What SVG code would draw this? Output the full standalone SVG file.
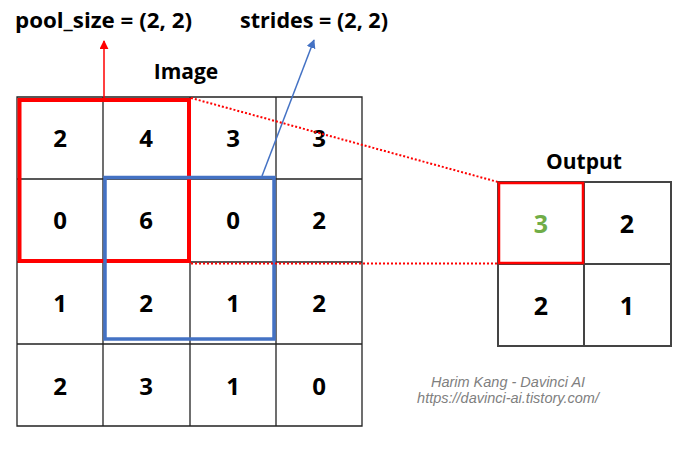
<svg xmlns="http://www.w3.org/2000/svg" width="699" height="450" viewBox="0 0 699 450">
<style>
.t{font-family:"Open Sans","Noto Sans","Liberation Sans",sans-serif;font-weight:bold;fill:#000;}
.lbl{font-size:21px;}
.num{font-size:24px;text-anchor:middle;}
.onum{font-size:25px;text-anchor:middle;}
.grid{fill:none;stroke:#222;stroke-width:1.3;}
.ogrid{fill:none;stroke:#444;stroke-width:2;}
.credit{font-family:"Liberation Sans",Arial,sans-serif;font-style:italic;font-size:14.5px;fill:#7f7f7f;text-anchor:middle;}
.dot{stroke:#FF0000;stroke-width:2;stroke-dasharray:2,2;fill:none;}
</style>
<defs>
<marker id="ar" viewBox="0 0 10 10" refX="9" refY="5" markerWidth="6" markerHeight="6" orient="auto"><path d="M0,0 L10,5 L0,10 z" fill="#FF0000"/></marker>
<marker id="ab" viewBox="0 0 10 10" refX="9" refY="5" markerWidth="6" markerHeight="6" orient="auto"><path d="M0,0 L10,5 L0,10 z" fill="#4472C4"/></marker>
</defs>
<rect width="699" height="450" fill="#fff"/>
<g id="labels">
<text class="t lbl" x="15" y="28" textLength="177" lengthAdjust="spacingAndGlyphs">pool_size = (2, 2)</text>
<text class="t lbl" x="240" y="28" textLength="148" lengthAdjust="spacingAndGlyphs">strides = (2, 2)</text>
<text class="t lbl" x="186" y="79" text-anchor="middle">Image</text>
<text class="t lbl" x="584" y="169" text-anchor="middle">Output</text>
</g>
<g id="image-grid">
<path class="grid" d="M17,97 H362 V426 H17 Z M103,97 V426 M190,97 V426 M276,97 V426 M17,179 H362 M17,262 H362 M17,344 H362"/>
<text class="t num" x="60" y="147">2</text>
<text class="t num" x="146" y="147">4</text>
<text class="t num" x="233" y="147">3</text>
<text class="t num" x="319" y="147">3</text>
<text class="t num" x="60" y="229">0</text>
<text class="t num" x="146" y="229">6</text>
<text class="t num" x="233" y="229">0</text>
<text class="t num" x="319" y="229">2</text>
<text class="t num" x="60" y="312">1</text>
<text class="t num" x="146" y="312">2</text>
<text class="t num" x="233" y="312">1</text>
<text class="t num" x="319" y="312">2</text>
<text class="t num" x="60" y="395">2</text>
<text class="t num" x="146" y="395">3</text>
<text class="t num" x="233" y="395">1</text>
<text class="t num" x="319" y="395">0</text>
</g>
<g id="output-grid">
<path class="ogrid" d="M498,182 H671 V346 H498 Z M584,182 V346 M498,264 H671"/>
<text class="t onum" x="541" y="233" style="fill:#70AD47">3</text>
<text class="t onum" x="627" y="233">2</text>
<text class="t onum" x="541" y="315">2</text>
<text class="t onum" x="627" y="315">1</text>
</g>
<g id="windows">
<rect id="pool-window" x="19.5" y="100" width="169.5" height="161" fill="none" stroke="#FF0000" stroke-width="4"/>
<rect id="stride-window" x="105" y="177.5" width="169" height="161.5" fill="none" stroke="#4472C4" stroke-width="3.5"/>
<rect id="out-window" x="499" y="183" width="84" height="80" fill="none" stroke="#FF0000" stroke-width="2.5"/>
</g>
<g id="connectors">
<line x1="104" y1="98" x2="104" y2="41" stroke="#FF0000" stroke-width="1.5" marker-end="url(#ar)"/>
<line x1="262" y1="176" x2="314" y2="40" stroke="#4472C4" stroke-width="1.5" marker-end="url(#ab)"/>
<line class="dot" x1="191" y1="98" x2="498" y2="182"/>
<line class="dot" x1="191" y1="263.5" x2="498" y2="263.5"/>
</g>
<g id="credit">
<text class="credit" x="508" y="387">Harim Kang - Davinci AI</text>
<text class="credit" x="508" y="403">https://davinci-ai.tistory.com/</text>
</g>
</svg>
